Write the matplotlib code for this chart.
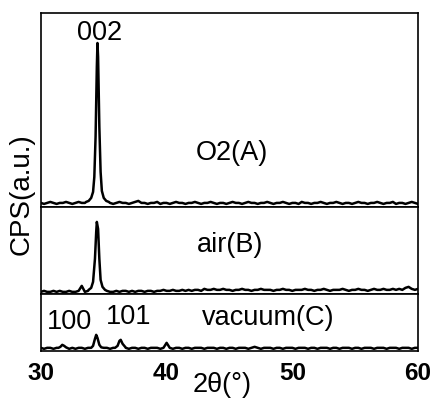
import numpy as np
import matplotlib
matplotlib.use("Agg")
import matplotlib.pyplot as plt

plt.rcParams['font.family'] = ['Liberation Sans', 'DejaVu Sans']

# 2theta grid for the background (0.25 deg steps, 30..60)
two_theta = np.arange(30, 60.001, 0.25)

# background counts (a.u.)
base_a = [4,3,4,5,4,3,4,4,5,4, 3,4,5,4,4,3,5,4,4,6, 5,4,4,3,4,5,4,4,3,4,
          5,6,4,4,3,4,4,5,3,4, 4,3,4,5,4,4,3,4,4,5, 4,3,4,4,5,4,3,4,4,3,
          4,5,4,4,3,4,5,4,4,3, 4,4,5,4,3,4,4,5,4,3, 4,4,3,5,4,4,3,4,4,5,
          4,3,4,4,5,4,3,4,4,3, 4,5,4,4,3,4,4,5,4,3, 4,4,5,3,4,4,3,4,5,4, 3]
base_b = [2,3,2,2,3,2,3,2,2,3, 2,2,3,8,2,3,2,2,3,2, 2,3,2,2,3,2,3,3,2,3,
          2,3,3,2,3,3,2,3,3,4, 3,3,4,3,3,4,3,4,3,4, 4,3,5,4,4,5,4,4,5,4,
          4,3,4,4,5,4,4,3,4,4, 5,4,4,4,3,4,4,5,4,4, 3,4,4,4,5,4,4,3,4,4,
          5,4,3,4,4,4,5,4,3,4, 4,5,4,4,3,4,5,4,4,5, 4,4,5,4,5,4,6,7,5,4, 5]
base_c = [3,2,3,3,2,3,3,4,3,2, 3,2,3,3,2,3,2,3,3,2, 3,3,2,3,3,2,3,3,2,3,
          3,2,3,3,2,3,3,3,2,3, 8,3,2,3,3,2,3,3,2,3, 3,3,2,3,3,3,2,3,3,2,
          3,3,2,3,3,3,2,3,4,3, 2,3,3,3,2,3,3,2,3,3, 3,2,3,3,3,2,3,3,2,3,
          3,3,2,3,3,2,3,3,3,2, 3,3,2,3,3,3,2,3,3,3, 2,3,3,3,2,3,3,3,2,3, 3]

# peak profiles (2theta, counts)
peaks_a = [([33.6, 33.8, 34.0, 34.15, 34.25, 34.35, 34.45, 34.5, 34.55, 34.65, 34.75, 34.85, 35.0, 35.2, 35.4],
            [5, 6, 9, 15, 30, 70, 140, 164, 150, 80, 35, 16, 9, 6, 5])]
peaks_b = [([33.8, 34.0, 34.15, 34.3, 34.4, 34.45, 34.55, 34.65, 34.75, 34.9, 35.1],
            [4, 6, 12, 35, 62, 72, 65, 35, 14, 7, 4])]
peaks_c = [([31.4, 31.55, 31.7, 31.85, 32.0], [3, 4, 6, 5, 3.5]),
           ([34.0, 34.15, 34.3, 34.4, 34.5, 34.65, 34.8], [3, 5, 12, 16, 13, 6, 3.5]),
           ([35.9, 36.1, 36.25, 36.35, 36.5, 36.7], [3, 5, 10, 11, 7, 4])]


def merge(base, peaks):
    x = np.array(two_theta)
    y = np.array(base, dtype=float)
    keep = np.ones(len(x), bool)
    for px, py in peaks:
        keep &= ~((x >= min(px)) & (x <= max(px)))
    xs = list(x[keep])
    ys = list(y[keep])
    for px, py in peaks:
        xs += px
        ys += py
    order = np.argsort(xs)
    return np.array(xs)[order], np.array(ys)[order]


panel_h = [194, 87, 57]
traces = [merge(base_a, peaks_a), merge(base_b, peaks_b), merge(base_c, peaks_c)]

fig = plt.figure(figsize=(4.35, 4.07), dpi=100)
gs = fig.add_gridspec(3, 1, height_ratios=panel_h, hspace=0,
                      left=0.094, right=0.961, top=0.968, bottom=0.138)
axes = [fig.add_subplot(gs[i]) for i in range(3)]

for ax, (x, y), h in zip(axes, traces, panel_h):
    ax.plot(x, y, color='black', lw=1.8)
    ax.set_xlim(30, 60)
    ax.set_ylim(0, h)
    ax.set_yticks([])
    for s in ax.spines.values():
        s.set_linewidth(1.2)
    ax.tick_params(axis='x', length=0)
    if ax is not axes[-1]:
        ax.set_xticklabels([])

axes[-1].set_xticks([30, 40, 50, 60])
axes[-1].tick_params(axis='x', labelsize=17.5, pad=8)
for lab in axes[-1].get_xticklabels():
    lab.set_fontweight('bold')

fs = 19.5
axes[0].text(34.7, 174, '002', fontsize=fs, ha='center', va='center')
axes[0].text(45.2, 54, 'O2(A)', fontsize=fs, ha='center', va='center')
axes[1].text(45.05, 49, 'air(B)', fontsize=fs, ha='center', va='center')
axes[2].text(48.06, 33, 'vacuum(C)', fontsize=fs, ha='center', va='center')
axes[2].text(32.3, 29, '100', fontsize=fs, ha='center', va='center')
axes[2].text(37.0, 34, '101', fontsize=fs, ha='center', va='center')

fig.text(222 / 435, 0.053, '2θ(°)', fontsize=fs, ha='center', va='center')
fig.text(22 / 435, 0.523, 'CPS(a.u.)', fontsize=20, ha='center', va='center', rotation=90)

fig.savefig('out.png', dpi=100)
